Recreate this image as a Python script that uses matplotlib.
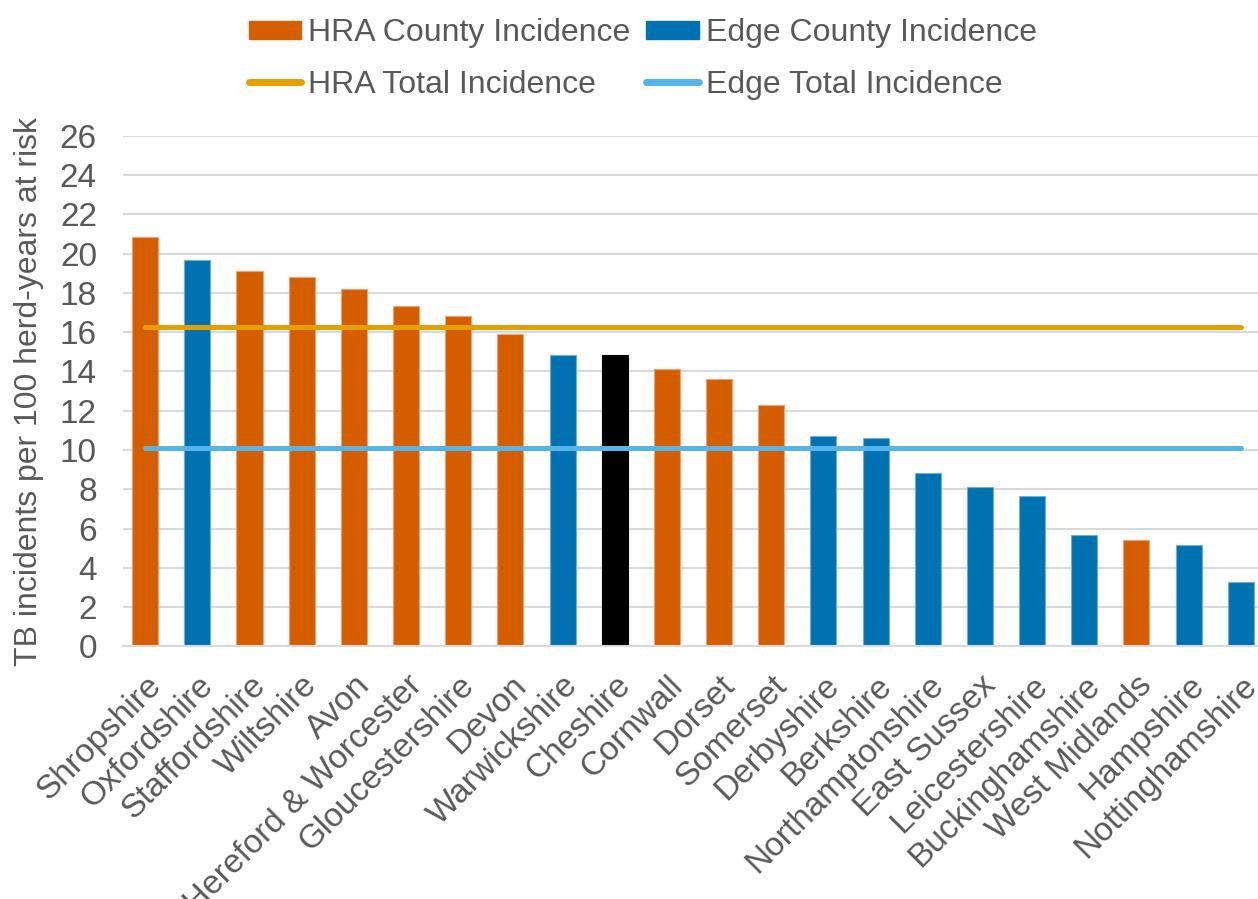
import matplotlib.pyplot as plt
from matplotlib.patches import Patch
from matplotlib.lines import Line2D
from matplotlib.transforms import ScaledTranslation

plt.rcParams['font.family'] = ['Liberation Sans', 'DejaVu Sans']

# county incidence, sorted high to low
counties = ['Shropshire', 'Oxfordshire', 'Staffordshire', 'Wiltshire', 'Avon',
            'Hereford & Worcester', 'Gloucestershire', 'Devon', 'Warwickshire',
            'Cheshire', 'Cornwall', 'Dorset', 'Somerset', 'Derbyshire', 'Berkshire',
            'Northamptonshire', 'East Sussex', 'Leicestershire', 'Buckinghamshire',
            'West Midlands', 'Hampshire', 'Nottinghamshire']
incidence = [20.86, 19.68, 19.12, 18.79, 18.18, 17.33, 16.83, 15.89, 14.83,
             14.83, 14.11, 13.60, 12.27, 10.70, 10.60, 8.83, 8.12, 7.66,
             5.66, 5.40, 5.17, 3.27]
area = ['HRA', 'Edge', 'HRA', 'HRA', 'HRA', 'HRA', 'HRA', 'HRA', 'Edge',
        'Cheshire', 'HRA', 'HRA', 'HRA', 'Edge', 'Edge', 'Edge', 'Edge', 'Edge',
        'Edge', 'HRA', 'Edge', 'Edge']

hra_total = 16.25
edge_total = 10.10

bar_colours = {'HRA': '#D55E00', 'Edge': '#0072B2', 'Cheshire': '#000000'}
edge_colours = {'HRA': '#EFA27A', 'Edge': '#6FAFD6', 'Cheshire': '#000000'}
text_grey = '#595959'

fig = plt.figure(figsize=(12.58, 8.99), dpi=100)
ax = fig.add_axes([0.098, 0.281, 0.902, 0.568])

x = list(range(len(counties)))
ax.bar(x, incidence, width=0.5,
       color=[bar_colours[a] for a in area],
       edgecolor=[edge_colours[a] for a in area], linewidth=0.8, zorder=2)

ax.plot([x[0], x[-1]], [hra_total, hra_total], color='#E69F00', lw=3.6,
        solid_capstyle='round', zorder=3)
ax.plot([x[0], x[-1]], [edge_total, edge_total], color='#56B4E9', lw=3.6,
        solid_capstyle='round', zorder=3)

ax.set_ylim(0, 26)
ax.set_xlim(-0.42, len(counties) - 1 + 0.33)
ax.set_yticks(range(0, 27, 2))
ax.grid(axis='y', color='#D9D9D9', lw=1.5, zorder=0)
ax.set_axisbelow(True)
for s in ['top', 'right', 'left']:
    ax.spines[s].set_visible(False)
ax.spines['bottom'].set_color('#D9D9D9')
ax.spines['bottom'].set_linewidth(1.5)

ax.set_xticks(x)
ax.set_xticklabels(counties, rotation=45, ha='right', rotation_mode='anchor',
                   fontsize=24, color=text_grey)
# nudge the slanted labels a little left of the tick
nudge = ScaledTranslation(-0.06, 0, fig.dpi_scale_trans)
for lbl in ax.get_xticklabels():
    lbl.set_transform(lbl.get_transform() + nudge)
ax.tick_params(axis='x', length=0, pad=17)
ax.tick_params(axis='y', length=0, labelsize=24, labelcolor=text_grey, pad=19)
ax.set_ylabel('TB incidents per 100 herd-years at risk', fontsize=23,
              color=text_grey, labelpad=11)

handles = [Patch(color=bar_colours['HRA']), Patch(color=bar_colours['Edge']),
           Line2D([], [], color='#E69F00', lw=5, solid_capstyle='round'),
           Line2D([], [], color='#56B4E9', lw=5, solid_capstyle='round')]
labels = ['HRA County Incidence', 'Edge County Incidence',
          'HRA Total Incidence', 'Edge Total Incidence']
# row-major order for a 2-column legend
order = [0, 2, 1, 3]
leg = fig.legend([handles[i] for i in order], [labels[i] for i in order],
                 ncol=2, loc='upper center', bbox_to_anchor=(0.511, 1.012),
                 frameon=False, fontsize=23, handlelength=1.63, handleheight=0.5,
                 handletextpad=0.22, columnspacing=0.5, labelspacing=0.68)
for t in leg.get_texts():
    t.set_color(text_grey)

fig.savefig('out.png', dpi=100)
